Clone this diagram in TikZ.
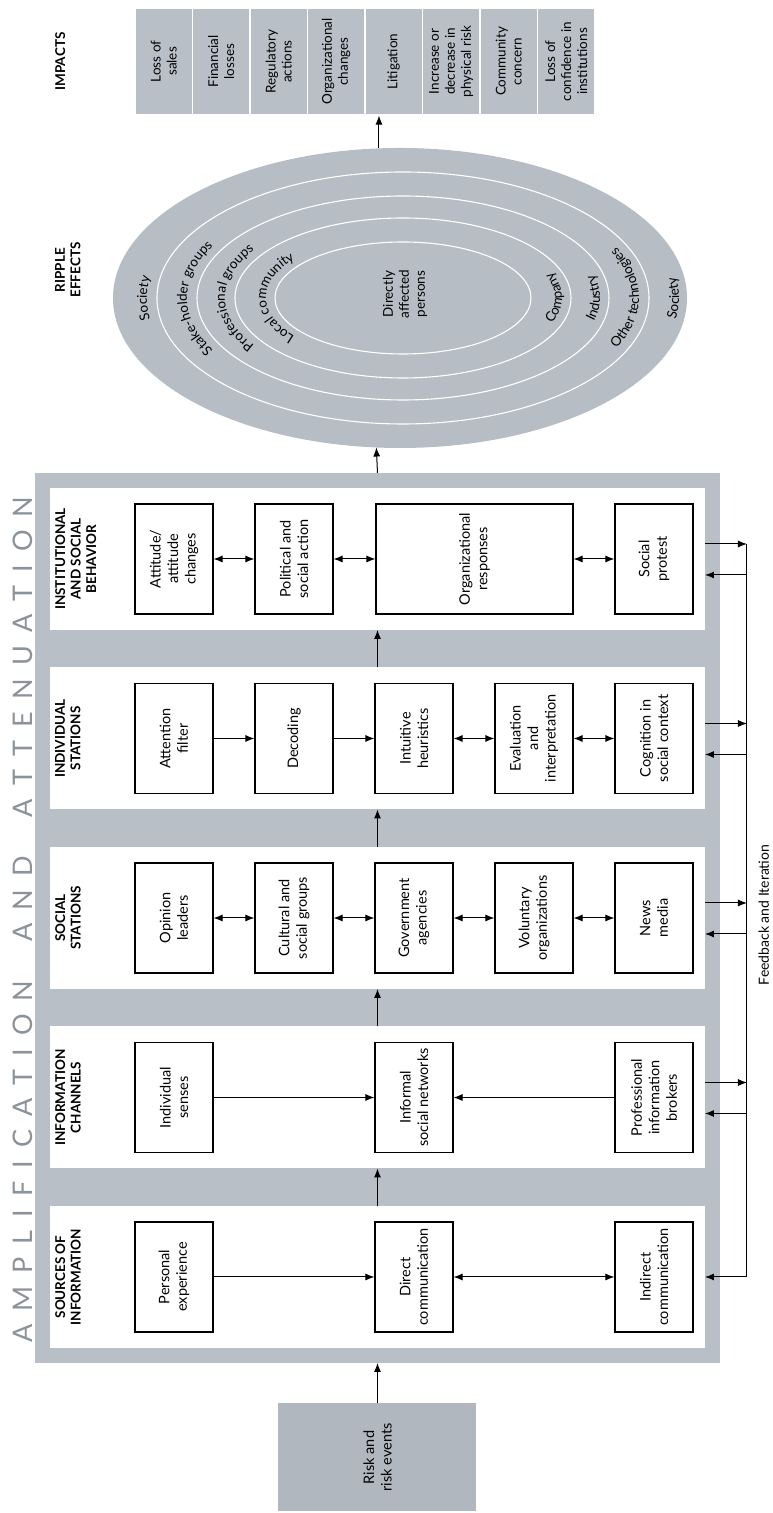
\documentclass[tikz,border=0pt]{standalone}
\usepackage{fontspec}
\setmainfont{Lato}
\usetikzlibrary{arrows.meta,shapes.geometric,decorations.text}

\definecolor{framegray}{RGB}{184,191,199}
\definecolor{titlegray}{RGB}{138,146,154}
\definecolor{ripplegray}{RGB}{182,189,196}
\newcommand\ringfont{\fontsize{13.5}{13.5}\selectfont}

\tikzset{
  box/.style={draw, line width=1.1pt, fill=white, minimum width=110, minimum height=78,
    align=center, inner sep=2pt, font=\fontsize{14.5}{17.5}\selectfont},
  head/.style={anchor=north, align=center, inner sep=2pt,
    font=\bfseries\fontsize{13.5}{15.5}\selectfont},
  impact/.style={fill=framegray, draw=white, line width=1.2pt, minimum width=107,
    minimum height=57.5, align=center, inner sep=1pt, font=\fontsize{13.5}{16}\selectfont},
  arr/.style={line width=1pt, -{Latex[length=9pt,width=7pt]}},
  darr/.style={line width=1pt, {Latex[length=9pt,width=7pt]}-{Latex[length=9pt,width=7pt]}},
  ring/.style={white, line width=1.1pt},
  ringtext/.style={decorate, decoration={text along path, text align=center, text={#1}}}
}

\begin{document}
\begin{tikzpicture}[x=1pt, y=1pt, rotate=90, transform shape]
\useasboundingbox (0,0) rectangle (1513,773);

% amplification frame and its five columns
\node[fill=framegray, minimum width=890, minimum height=685, inner sep=0, outer sep=0] (frame) at (595,395.5) {};
\foreach \i in {0,...,4}
  \node[fill=white, minimum width=142, minimum height=655, inner sep=0, outer sep=0] (col\i) at (236+179.5*\i,395.5) {};

\node[anchor=base west, inner sep=0, text=titlegray, font=\fontsize{27}{27}\selectfont] (title) at (170,740)
  {\makebox[846pt][s]{A\hfill M\hfill P\hfill L\hfill I\hfill F\hfill I\hfill C\hfill A\hfill T\hfill I\hfill O\hfill N\hfill\hfill\hfill
   A\hfill N\hfill D\hfill\hfill\hfill A\hfill T\hfill T\hfill E\hfill N\hfill U\hfill A\hfill T\hfill I\hfill O\hfill N}};

\node[head] (h0) at (236,720) {SOURCES OF\\INFORMATION};
\node[head] (h1) at (415.5,720) {INFORMATION\\CHANNELS};
\node[head] (h2) at (595,720) {SOCIAL\\STATIONS};
\node[head] (h3) at (774.5,720) {INDIVIDUAL\\STATIONS};
\node[head] (h4) at (954,720) {INSTITUTIONAL\\AND SOCIAL\\BEHAVIOR};

\node[box] (pers) at (236,599) {Personal\\experience};
\node[box] (dir) at (236,359) {Direct\\communication};
\node[box] (indir) at (236,119) {Indirect\\communication};
\node[box] (sens) at (415.5,599) {Individual\\senses};
\node[box] (inf) at (415.5,359) {Informal\\social networks};
\node[box] (prof) at (415.5,119) {Professional\\information\\brokers};
\node[box] (opin) at (595,599) {Opinion\\leaders};
\node[box] (cult) at (595,479) {Cultural and\\social groups};
\node[box] (gov) at (595,359) {Government\\agencies};
\node[box] (vol) at (595,239) {Voluntary\\organizations};
\node[box] (news) at (595,119) {News\\media};
\node[box] (att) at (774.5,599) {Attention\\filter};
\node[box] (dec) at (774.5,479) {Decoding};
\node[box] (heur) at (774.5,359) {Intuitive\\heuristics};
\node[box] (eval) at (774.5,239) {Evaluation\\and\\interpretation};
\node[box] (cogn) at (774.5,119) {Cognition in\\social context};
\node[box] (attit) at (954,599) {Attitude/\\attitude\\changes};
\node[box] (pol) at (954,479) {Political and\\social action};
\node[box, minimum height=197] (org) at (954,298.5) {Organizational\\responses};
\node[box] (prot) at (954,119) {Social\\protest};

\draw[arr] (pers) -- (dir); \draw[darr] (dir) -- (indir);
\draw[arr] (sens) -- (inf); \draw[arr] (prof) -- (inf);
\draw[darr] (opin) -- (cult); \draw[darr] (cult) -- (gov);
\draw[darr] (gov) -- (vol); \draw[darr] (vol) -- (news);
\draw[arr] (att) -- (dec); \draw[arr] (dec) -- (heur);
\draw[darr] (heur) -- (eval); \draw[darr] (eval) -- (cogn);
\draw[darr] (attit) -- (pol); \draw[darr] (pol) -- (org); \draw[darr] (org) -- (prot);

% risk events in, ripple effects and impacts out
\node[fill=framegray!96!black, minimum width=108, minimum height=198, align=center,
  font=\fontsize{14.5}{17.5}\selectfont] (risk) at (55.5,395.5) {Risk and\\risk events};
\draw[arr] (risk) -- (frame);
\foreach \i/\j in {0/1,1/2,2/3,3/4}
  \draw[arr] (col\i) -- (col\j);

\node[head] (hrip) at (1243,720) {RIPPLE\\EFFECTS};
\node[ellipse, fill=ripplegray, minimum width=300, minimum height=574, inner sep=0, outer sep=0] (ripple) at (1215,373) {};
\draw[ring] (1215,370) ellipse [x radius=126, y radius=246];
\draw[ring] (1215,370) ellipse [x radius=102, y radius=206];
\draw[ring] (1215,370) ellipse [x radius=80, y radius=168];
\draw[ring] (1215,370) ellipse [x radius=56, y radius=128];
\node[align=center, font=\fontsize{13.5}{16}\selectfont] (direct) at (1219,368) {Directly\\affected\\persons};

\path[ringtext={|\ringfont|Society}] (1082,370) arc[start angle=180, end angle=0, x radius=133, y radius=256];
\path[ringtext={|\ringfont|Stake-holder groups}] (1106,370) arc[start angle=180, end angle=0, x radius=109, y radius=216];
\path[ringtext={|\ringfont|Professional groups}] (1128,370) arc[start angle=180, end angle=0, x radius=87, y radius=178];
\path[ringtext={|\ringfont|Local community}] (1152,370) arc[start angle=180, end angle=0, x radius=63, y radius=137];
\path[ringtext={|\ringfont|Society}] (1073,370) arc[start angle=180, end angle=360, x radius=142, y radius=276];
\path[ringtext={|\ringfont|Other technologies}] (1097,370) arc[start angle=180, end angle=360, x radius=118, y radius=236];
\path[ringtext={|\ringfont|Industry}] (1121,370) arc[start angle=180, end angle=360, x radius=94, y radius=197];
\path[ringtext={|\ringfont|Company}] (1143,370) arc[start angle=180, end angle=360, x radius=72, y radius=159];

\node[head] (himp) at (1451.5,720) {IMPACTS};
\foreach \t [count=\i] in {{Loss of\\sales},{Financial\\losses},{Regulatory\\actions},{Organizational\\changes},
    {Litigation},{Increase or\\decrease in\\physical risk},{Community\\concern},{Loss of\\confidence in\\institutions}}
  \node[impact] (imp\i) at (1451.5,666.75-57.5*\i) {\t};

\draw[arr] (frame.east) -- (ripple.171.4);
\draw[arr] (ripple.8.6) -- (ripple.8.6 -| imp5.west);

% feedback and iteration
\coordinate (fbstart) at (236,26);
\coordinate (fbend) at (969,26);
\draw[line width=1pt] (fbstart) -- (fbend);
\draw[arr] (fbstart) -- (col0.south -| fbstart);
\foreach \i in {1,...,4} {
  \coordinate (fo\i) at (251+179.5*\i,26);
  \coordinate (fi\i) at (220+179.5*\i,26);
  \draw[arr] (col\i.south -| fo\i) -- (fo\i);
  \draw[arr] (fi\i) -- (col\i.south -| fi\i);
}
\node[anchor=base, inner sep=0, font=\fontsize{14}{16}\selectfont] (fblabel) at (598,4) {Feedback and Iteration};
\end{tikzpicture}
\end{document}
